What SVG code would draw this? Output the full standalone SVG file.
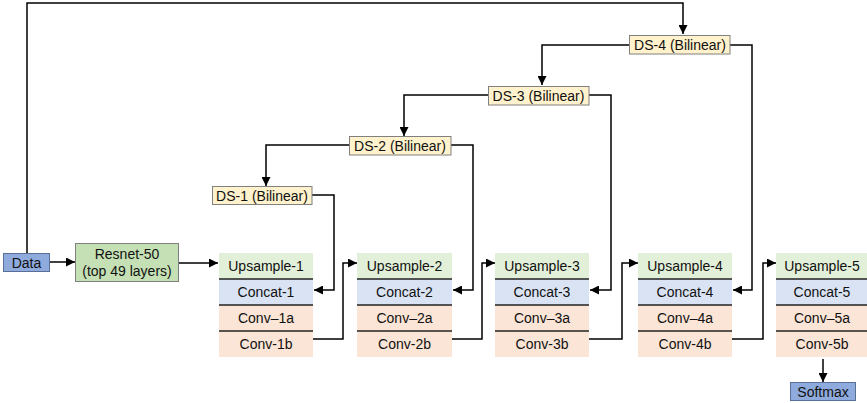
<svg xmlns="http://www.w3.org/2000/svg" width="867" height="403" viewBox="0 0 867 403">
<defs>
<marker id="ah" viewBox="0 0 10 10" refX="10" refY="5" markerWidth="9" markerHeight="9" markerUnits="userSpaceOnUse" orient="auto">
<path d="M0,0 L10,5 L0,10 z" fill="#000"/>
</marker>
<style>
text{font-family:"Liberation Sans",Arial,sans-serif;font-size:14px;fill:#111;text-anchor:middle;dominant-baseline:central}
.blue{fill:#8FAADC;stroke:#5a6f96;stroke-width:1}
.green{fill:#C5E0B4;stroke:#808080;stroke-width:1}
.ds{fill:#FFF2CC;stroke:#808080;stroke-width:1}
.up{fill:#E2F0D9}
.cc{fill:#DAE3F3}
.cv{fill:#FBE5D6}
.sep{stroke:#222;stroke-width:1.3}
.ln{fill:none;stroke:#000;stroke-width:1.5}
.ar{fill:none;stroke:#000;stroke-width:1.5;marker-end:url(#ah)}
</style>
</defs>
<rect width="867" height="403" fill="#fff"/>

<g id="connectors">
<polyline class="ar" points="27,253 27,3 683,3 683,34"/>
<polyline class="ar" points="49,262 75,262"/>
<polyline class="ar" points="179,263 218,263"/>
<polyline class="ar" points="629,45 542,45 542,85"/>
<polyline class="ar" points="730,45 752,45 752,290 733,290"/>
<polyline class="ar" points="488,95 404,95 404,136"/>
<polyline class="ar" points="589,95 611,95 611,290 590,290"/>
<polyline class="ar" points="349,145 266,145 266,186"/>
<polyline class="ar" points="451,145 473,145 473,290 453,290"/>
<polyline class="ar" points="312,195 334,195 334,290 314,290"/>
<polyline class="ar" points="313,339 343,339 343,263 357,263"/>
<polyline class="ar" points="452,339 482,339 482,263 495,263"/>
<polyline class="ar" points="589,339 622,339 622,263 638,263"/>
<polyline class="ar" points="732,339 763,339 763,263 776,263"/>
<polyline class="ar" points="823,359 823,382"/>
</g>

<g id="data"><rect class="blue" x="3.5" y="253.5" width="46" height="18"/><text x="26.5" y="263">Data</text></g>
<g id="resnet"><rect class="green" x="75.5" y="243.5" width="103" height="38"/><text x="127" y="253.5">Resnet-50</text><text x="127" y="271">(top 49 layers)</text></g>

<g id="ds1"><rect class="ds" x="212.5" y="186.5" width="99.5" height="18"/><text x="262" y="196">DS-1 (Bilinear)</text></g>
<g id="ds2"><rect class="ds" x="349.5" y="136.5" width="101.5" height="18.5"/><text x="400" y="146">DS-2 (Bilinear)</text></g>
<g id="ds3"><rect class="ds" x="488.5" y="86.5" width="100.5" height="18.5"/><text x="538.5" y="96">DS-3 (Bilinear)</text></g>
<g id="ds4"><rect class="ds" x="629.5" y="35.5" width="100.5" height="18.5"/><text x="680" y="45">DS-4 (Bilinear)</text></g>

<g id="block1">
<rect class="up" x="219" y="253" width="94" height="26"/><rect class="cc" x="219" y="279" width="94" height="26"/><rect class="cv" x="219" y="305" width="94" height="52"/>
<line class="sep" x1="219" y1="279" x2="313" y2="279"/><line class="sep" x1="219" y1="305" x2="313" y2="305"/><line class="sep" x1="219" y1="331" x2="313" y2="331"/>
<text x="266" y="266">Upsample-1</text><text x="266" y="292">Concat-1</text><text x="266" y="318">Conv–1a</text><text x="266" y="344">Conv-1b</text>
</g>
<g id="block2">
<rect class="up" x="357" y="253" width="95" height="26"/><rect class="cc" x="357" y="279" width="95" height="26"/><rect class="cv" x="357" y="305" width="95" height="52"/>
<line class="sep" x1="357" y1="279" x2="452" y2="279"/><line class="sep" x1="357" y1="305" x2="452" y2="305"/><line class="sep" x1="357" y1="331" x2="452" y2="331"/>
<text x="404.5" y="266">Upsample-2</text><text x="404.5" y="292">Concat-2</text><text x="404.5" y="318">Conv–2a</text><text x="404.5" y="344">Conv-2b</text>
</g>
<g id="block3">
<rect class="up" x="495" y="253" width="94" height="26"/><rect class="cc" x="495" y="279" width="94" height="26"/><rect class="cv" x="495" y="305" width="94" height="52"/>
<line class="sep" x1="495" y1="279" x2="589" y2="279"/><line class="sep" x1="495" y1="305" x2="589" y2="305"/><line class="sep" x1="495" y1="331" x2="589" y2="331"/>
<text x="542" y="266">Upsample-3</text><text x="542" y="292">Concat-3</text><text x="542" y="318">Conv–3a</text><text x="542" y="344">Conv-3b</text>
</g>
<g id="block4">
<rect class="up" x="638" y="253" width="94" height="26"/><rect class="cc" x="638" y="279" width="94" height="26"/><rect class="cv" x="638" y="305" width="94" height="52"/>
<line class="sep" x1="638" y1="279" x2="732" y2="279"/><line class="sep" x1="638" y1="305" x2="732" y2="305"/><line class="sep" x1="638" y1="331" x2="732" y2="331"/>
<text x="685" y="266">Upsample-4</text><text x="685" y="292">Concat-4</text><text x="685" y="318">Conv–4a</text><text x="685" y="344">Conv-4b</text>
</g>
<g id="block5">
<rect class="up" x="776" y="253" width="91" height="26"/><rect class="cc" x="776" y="279" width="91" height="26"/><rect class="cv" x="776" y="305" width="91" height="52"/>
<line class="sep" x1="776" y1="279" x2="867" y2="279"/><line class="sep" x1="776" y1="305" x2="867" y2="305"/><line class="sep" x1="776" y1="331" x2="867" y2="331"/>
<text x="822" y="266">Upsample-5</text><text x="822" y="292">Concat-5</text><text x="822" y="318">Conv–5a</text><text x="822" y="344">Conv-5b</text>
</g>
<g id="softmax"><rect class="blue" x="790.5" y="382.5" width="65" height="18"/><text x="823" y="392">Softmax</text></g>
</svg>
